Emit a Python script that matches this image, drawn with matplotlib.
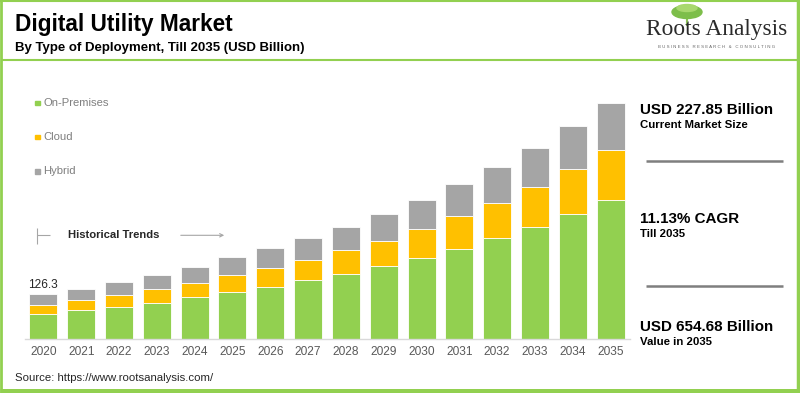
import matplotlib
matplotlib.use("Agg")
import matplotlib.pyplot as plt
from matplotlib.patches import Rectangle, Ellipse
from matplotlib.lines import Line2D

# ---- data ----
years = ["2020", "2021", "2022", "2023", "2024", "2025", "2026", "2027",
         "2028", "2029", "2030", "2031", "2032", "2033", "2034", "2035"]
on_premises = [70.0, 80.3, 89.5, 101.4, 116.3, 131.0, 144.9, 164.3,
               180.9, 202.2, 224.4, 249.3, 279.8, 311.0, 346.3, 385.9]
cloud = [26.3, 29.4, 34.1, 37.1, 40.4, 46.3, 51.8, 55.4,
         65.6, 70.9, 81.2, 92.2, 98.6, 110.0, 124.7, 138.5]
hybrid = [30.0, 30.5, 34.3, 39.6, 44.3, 49.9, 56.2, 60.9,
          65.4, 74.0, 80.3, 87.8, 98.1, 108.0, 119.9, 131.0]
series_names = ["On-Premises", "Cloud", "Hybrid"]
first_label = "126.3"

colors = ["#92D050", "#FFC000", "#A5A5A5"]
W, H = 800, 393

plt.rcParams['font.family'] = ['Liberation Sans', 'DejaVu Sans']
fig = plt.figure(figsize=(W / 100, H / 100), dpi=100)

def fx(x):
    return x / W

def fy(y):
    return 1 - y / H

# ---- main axes ----
ax_left, ax_right, ax_top, ax_bot = 24.5, 629.5, 90.0, 339.3
ax = fig.add_axes([fx(ax_left), fy(ax_bot), (ax_right - ax_left) / W, (ax_bot - ax_top) / H])
x = list(range(len(years)))
bw = 0.74
bottom2 = [a + b for a, b in zip(on_premises, cloud)]
ax.bar(x, on_premises, width=bw, color=colors[0], edgecolor="white", linewidth=0.6, zorder=2)
ax.bar(x, cloud, width=bw, bottom=on_premises, color=colors[1], edgecolor="white", linewidth=0.6, zorder=2)
ax.bar(x, hybrid, width=bw, bottom=bottom2, color=colors[2], edgecolor="white", linewidth=0.6, zorder=2)
ax.set_xlim(-0.5, len(years) - 0.5)
ax.set_ylim(0, 690)
ax.set_xticks(x)
ax.set_xticklabels(years, fontsize=8.6, color="#595959")
ax.tick_params(axis="x", length=0, pad=5)
ax.set_yticks([])
for s in ["top", "right", "left"]:
    ax.spines[s].set_visible(False)
ax.spines["bottom"].set_color("#D9D9D9")
ax.spines["bottom"].set_linewidth(1.0)
ax.set_facecolor("none")

total0 = on_premises[0] + cloud[0] + hybrid[0]
ax.text(0, total0 + 8, first_label, ha="center", va="bottom", fontsize=8.6, color="#262626")

# ---- frame ----
g = "#92D050"
fig.patches.append(Rectangle((0, 0), 1, 1, transform=fig.transFigure, fill=False,
                             edgecolor=g, linewidth=0, zorder=0))
def hline(y, x0, x1, lw, color):
    fig.lines.append(Line2D([fx(x0), fx(x1)], [fy(y), fy(y)], transform=fig.transFigure,
                            color=color, linewidth=lw, solid_capstyle="butt"))
def vline(x0, y0, y1, lw, color):
    fig.lines.append(Line2D([fx(x0), fx(x0)], [fy(y0), fy(y1)], transform=fig.transFigure,
                            color=color, linewidth=lw, solid_capstyle="butt"))

vline(1.3, 0, H, 2.0, g)
vline(798.3, 0, H, 2.5, g)
hline(1.0, 0, W, 1.5, g)
hline(390.5, 0, W, 3.6, g)
hline(59.5, 2, 797, 1.5, g)

# ---- title ----
fig.text(fx(15), fy(24), "Digital Utility Market", fontsize=16.3, fontweight="bold",
         color="#000000", va="center", ha="left")
fig.text(fx(15), fy(48), "By Type of Deployment, Till 2035 (USD Billion)", fontsize=9.5,
         fontweight="bold", color="#000000", va="center", ha="left")

# ---- logo ----
fig.patches.append(Ellipse((fx(687), fy(12)), 30 / W, 13 / H, transform=fig.transFigure,
                           color="#7DBE4A", zorder=3))
fig.patches.append(Ellipse((fx(687), fy(8)), 20 / W, 7 / H, transform=fig.transFigure,
                           color="#A8D86E", zorder=3))
vline(687, 16, 26, 1.5, "#8BBF5A")
fig.text(fx(717), fy(35), "Roots Analysis", fontsize=16.8, family=["Liberation Serif"],
         color="#2b2b2b", ha="center", va="baseline")
fig.text(fx(717), fy(47.5), " ".join("BUSINESS RESEARCH & CONSULTING"), fontsize=3.2,
         color="#666666", ha="center", va="center")

# ---- legend ----
leg_y = [103, 137, 171.5]
for name, c, yy in zip(series_names, colors, leg_y):
    fig.patches.append(Rectangle((fx(35), fy(yy + 2.2)), 4.5 / W, 4.5 / H,
                                 transform=fig.transFigure, color=c, zorder=3))
    fig.text(fx(43), fy(yy), name, fontsize=8.1, color="#7F7F7F", va="center", ha="left")

# ---- historical trends ----
ac = "#A6A6A6"
vline(36.7, 228, 244, 0.8, ac)
hline(235.3, 36.7, 50, 0.8, ac)
fig.text(fx(68.5), fy(235), "Historical Trends", fontsize=8.1, fontweight="bold",
         color="#262626", va="center", ha="left")
ax.annotate("", xy=(fx(227), fy(235.3)), xytext=(fx(178), fy(235.3)),
            xycoords="figure fraction", textcoords="figure fraction",
            arrowprops=dict(arrowstyle="->", color=ac, lw=0.8, mutation_scale=6))

# ---- right panel ----
rx = 640
fig.text(fx(rx), fy(110), "USD 227.85 Billion", fontsize=10.9, fontweight="bold", va="center")
fig.text(fx(rx), fy(125), "Current Market Size", fontsize=8.2, fontweight="bold", va="center")
hline(160.7, 646, 783.3, 1.8, "#7F7F7F")
fig.text(fx(rx), fy(219), "11.13% CAGR", fontsize=10.9, fontweight="bold", va="center")
fig.text(fx(rx), fy(234.3), "Till 2035", fontsize=8.2, fontweight="bold", va="center")
hline(286, 646, 783.3, 1.8, "#7F7F7F")
fig.text(fx(rx), fy(327.3), "USD 654.68 Billion", fontsize=10.9, fontweight="bold", va="center")
fig.text(fx(rx), fy(341.7), "Value in 2035", fontsize=8.2, fontweight="bold", va="center")

# ---- source ----
fig.text(fx(15), fy(378.3), "Source: https://www.rootsanalysis.com/", fontsize=8.2,
         color="#262626", va="center", ha="left")

fig.savefig("out.png", dpi=100)
